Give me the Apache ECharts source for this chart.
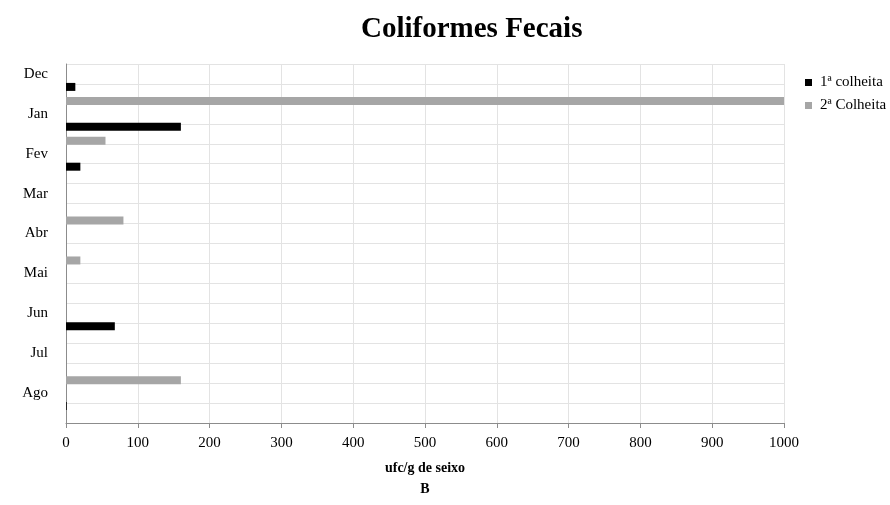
<!DOCTYPE html>
<html>
<head>
<meta charset="utf-8">
<script src="https://cdn.jsdelivr.net/npm/echarts@6/dist/echarts.min.js"></script>
<style>html,body{margin:0;padding:0;background:#fff}#c{width:890px;height:505px}</style>
</head>
<body>
<div id="c"></div>
<script>
var months = ['Dec','Jan','Fev','Mar','Abr','Mai','Jun','Jul','Ago'];
var colheita1 = [13,160,20,0,0,0,68,0,1];
var colheita2 = [1000,55,0,80,20,0,0,160,0];
var xTicks = [0,100,200,300,400,500,600,700,800,900,1000];
var seriesNames = ['1ª colheita','2ª Colheita'];

var cats = [], d1 = [], d2 = [];
months.forEach(function(m, i){
  cats.push(m); d1.push(null); d2.push(null);
  cats.push(''); d1.push(colheita1[i]); d2.push(colheita2[i]);
});

var font = 'Liberation Serif';
var chart = echarts.init(document.getElementById('c'), null, {renderer:'canvas'});
chart.setOption({
  animation:false,
  backgroundColor:'#fff',
  title:{text:'Coliformes Fecais', left:356, top:10,
    textStyle:{fontFamily:font, fontSize:29, fontWeight:'bold', color:'#000'}},
  legend:{orient:'vertical', left:800, top:70, itemWidth:7, itemHeight:7, itemGap:8, icon:'rect',
    textStyle:{fontFamily:font, fontSize:15, color:'#000', padding:[0,0,0,3]},
    data:seriesNames},
  grid:{left:66, right:106, top:64, bottom:82, containLabel:false},
  xAxis:{type:'value', min:xTicks[0], max:xTicks[xTicks.length-1], interval:100,
    name:'ufc/g de seixo\nB', nameLocation:'middle', nameGap:35,
    nameTextStyle:{fontFamily:font, fontSize:14, fontWeight:'bold', color:'#000', lineHeight:21},
    axisLine:{show:true, lineStyle:{color:'#8c8c8c', width:1}},
    axisTick:{show:true, length:5, lineStyle:{color:'#8c8c8c'}},
    axisLabel:{fontFamily:font, fontSize:15, color:'#000', margin:13,
      formatter:function(v){return String(v);}},
    splitLine:{show:true, lineStyle:{color:'#e3e3e3', width:1}}},
  yAxis:{type:'category', inverse:true, data:cats,
    axisLine:{show:true, lineStyle:{color:'#8c8c8c', width:1}},
    axisTick:{show:false},
    axisLabel:{interval:0, fontFamily:font, fontSize:15, color:'#000', margin:18},
    splitLine:{show:true, interval:0, lineStyle:{color:'#e3e3e3', width:1}}},
  series:[
    {name:seriesNames[0], type:'bar', data:d1, barWidth:8, barGap:'75%', itemStyle:{color:'#000'}},
    {name:seriesNames[1], type:'bar', data:d2, barWidth:8, barGap:'75%', itemStyle:{color:'#a6a6a6'}}
  ]
});
</script>
</body>
</html>
